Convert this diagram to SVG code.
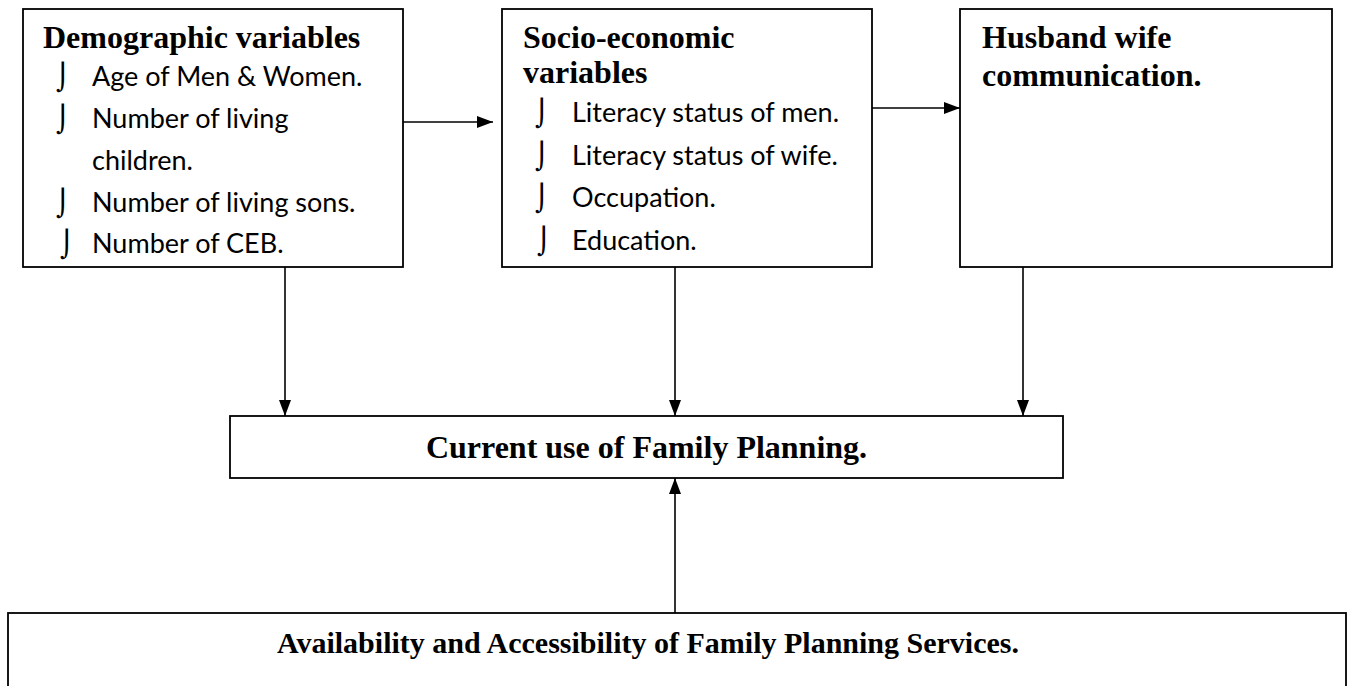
<svg xmlns="http://www.w3.org/2000/svg" width="1353" height="686" viewBox="0 0 1353 686">
  <style>
    .box { fill: #ffffff; stroke: #000000; stroke-width: 1.8; }
    .title { font-family: "Liberation Serif", "Times New Roman", serif; font-weight: bold; font-size: 32px; fill: #000000; }
    .banner { font-family: "Liberation Serif", "Times New Roman", serif; font-weight: bold; font-size: 30px; fill: #000000; }
    .item { font-family: Lato, "Open Sans", sans-serif; font-size: 27px; fill: #000000; }
    .bullet { font-family: "DejaVu Sans", sans-serif; font-size: 26px; fill: #000000; }
    .link { stroke: #000000; stroke-width: 1.6; fill: none; marker-end: url(#head); }
  </style>
  <defs>
    <marker id="head" viewBox="0 0 16 12" refX="16" refY="6" markerWidth="16" markerHeight="12" markerUnits="userSpaceOnUse" orient="auto">
      <path d="M0,0 L16,6 L0,12 Z" fill="#000000"/>
    </marker>
  </defs>
  <rect width="1353" height="686" fill="#ffffff"/>

  <g id="demographic">
    <rect class="box" x="23" y="9" width="380" height="258"/>
    <text class="title" x="43" y="48">Demographic variables</text>
    <text class="bullet" x="56" y="86">⌡</text>
    <text class="item" x="92" y="86">Age of Men &amp; Women.</text>
    <text class="bullet" x="56" y="128">⌡</text>
    <text class="item" x="92" y="128">Number of living</text>
    <text class="item" x="92" y="170">children.</text>
    <text class="bullet" x="56" y="212">⌡</text>
    <text class="item" x="92" y="212">Number of living sons.</text>
    <text class="bullet" x="60" y="253">⌡</text>
    <text class="item" x="92" y="253">Number of CEB.</text>
  </g>

  <g id="socioeconomic">
    <rect class="box" x="502" y="9" width="370" height="258"/>
    <text class="title" x="523" y="48">Socio-economic</text>
    <text class="title" x="523" y="83">variables</text>
    <text class="bullet" x="535" y="122">⌡</text>
    <text class="item" x="572" y="122">Literacy status of men.</text>
    <text class="bullet" x="535" y="165">⌡</text>
    <text class="item" x="572" y="165">Literacy status of wife.</text>
    <text class="bullet" x="535" y="207">⌡</text>
    <text class="item" x="572" y="207">Occupation.</text>
    <text class="bullet" x="537" y="250">⌡</text>
    <text class="item" x="572" y="250">Education.</text>
  </g>

  <g id="communication">
    <rect class="box" x="960" y="9" width="372" height="258"/>
    <text class="title" x="982" y="48">Husband wife</text>
    <text class="title" x="982" y="86">communication.</text>
  </g>

  <g id="current-use">
    <rect class="box" x="230" y="416" width="833" height="62"/>
    <text class="title" x="646.5" y="458" text-anchor="middle">Current use of Family Planning.</text>
  </g>

  <g id="services">
    <rect class="box" x="8" y="613" width="1338" height="90"/>
    <text class="banner" x="648" y="653" text-anchor="middle">Availability and Accessibility of Family Planning Services.</text>
  </g>

  <g id="connectors">
    <line class="link" x1="403" y1="122" x2="493" y2="122"/>
    <line class="link" x1="872" y1="108" x2="960" y2="108"/>
    <line class="link" x1="285" y1="267" x2="285" y2="416"/>
    <line class="link" x1="675" y1="267" x2="675" y2="416"/>
    <line class="link" x1="1023" y1="267" x2="1023" y2="416"/>
    <line class="link" x1="675" y1="613" x2="675" y2="478"/>
  </g>
</svg>
